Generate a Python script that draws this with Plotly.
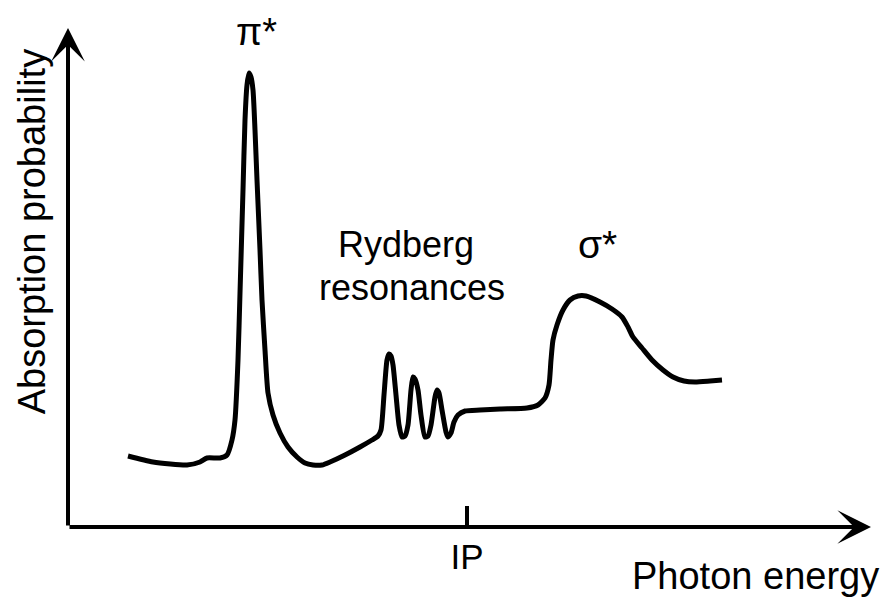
import plotly.graph_objects as go

# Schematic NEXAFS spectrum (arbitrary units)
energy = [60, 85, 119, 132, 139, 152, 159, 164, 167, 170, 172, 175, 177, 179, 181, 183, 185, 187, 189, 192,
          194, 197, 200, 205, 212, 220, 229, 237, 245, 254, 262, 277, 292, 304, 310, 313, 316, 319, 321, 323,
          325, 328, 331, 334, 337, 340, 343, 345, 347, 350, 353, 357, 360, 363, 367, 369, 371, 374, 378, 380,
          383, 386, 390, 397, 412, 432, 459, 470, 477, 481, 483, 485, 489, 495, 502, 510, 518, 532, 544, 554,
          560, 565, 574, 584, 595, 605, 616, 627, 642, 654]
absorption = [71, 65, 62, 65, 69, 69, 72, 87, 107, 167, 234, 337, 407, 442, 454, 450, 437, 397, 347, 277,
              227, 177, 134, 112, 94, 80, 70, 64, 62, 62, 65, 72, 80, 87, 91, 97, 132, 167, 173, 171,
              162, 132, 102, 90, 91, 102, 137, 150, 148, 137, 112, 90, 91, 102, 130, 137, 134, 117, 95, 90,
              94, 105, 112, 116, 117, 118, 119, 122, 129, 142, 167, 187, 202, 217, 227, 231, 231, 225, 218, 210,
              200, 190, 179, 167, 157, 150, 146, 145, 146, 147]

ip_energy = [399]
ip_label = ["IP"]

x_range = [0, 813]
y_range = [0, 527]
x_axis_end = 803
y_axis_end = 499

FONT = "Arial, Liberation Sans, sans-serif"

fig = go.Figure()
fig.add_trace(go.Scatter(x=energy, y=absorption, mode="lines",
                         line=dict(color="black", width=5, shape="spline", smoothing=0.6),
                         hoverinfo="skip", showlegend=False))

fig.update_layout(
    width=881, height=600,
    margin=dict(l=68, r=0, t=0, b=73),
    paper_bgcolor="white", plot_bgcolor="white",
    xaxis=dict(range=x_range, showgrid=False, zeroline=False, showline=False,
               tickvals=ip_energy, ticktext=ip_label, ticks="inside", ticklen=21, tickwidth=3.5,
               tickcolor="black", tickfont=dict(family=FONT, size=35, color="black"),
               ticklabelstandoff=6),
    yaxis=dict(range=y_range, showgrid=False, zeroline=False, showline=False,
               showticklabels=False, ticks=""),
)

# axes with arrowheads
fig.add_annotation(x=0, y=y_axis_end, ax=0, ay=0, xref="x", yref="y", axref="x", ayref="y",
                   text="", showarrow=True, arrowhead=3, arrowsize=1.4, arrowwidth=4, arrowcolor="black")
fig.add_annotation(x=x_axis_end, y=0, ax=0, ay=0, xref="x", yref="y", axref="x", ayref="y",
                   text="", showarrow=True, arrowhead=3, arrowsize=1.4, arrowwidth=4, arrowcolor="black")

labels = [
    dict(x=188, y=495, text="π*", size=38),
    dict(x=338, y=283, text="Rydberg", size=36),
    dict(x=344, y=240, text="resonances", size=36),
    dict(x=529, y=283, text="σ*", size=39),
]
for lab in labels:
    fig.add_annotation(x=lab["x"], y=lab["y"], xref="x", yref="y", text=lab["text"], showarrow=False,
                       font=dict(family=FONT, size=lab["size"], color="black"))

fig.add_annotation(x=1.0, y=-0.1366, xref="paper", yref="paper", text="Photon energy", showarrow=False,
                   xanchor="right", yanchor="bottom", font=dict(family=FONT, size=38, color="black"))
fig.add_annotation(x=-0.045, y=0.56, xref="paper", yref="paper", text="Absorption probability",
                   showarrow=False, textangle=-90, xanchor="center", yanchor="middle",
                   font=dict(family=FONT, size=38, color="black"))

fig.write_html("out.html")
